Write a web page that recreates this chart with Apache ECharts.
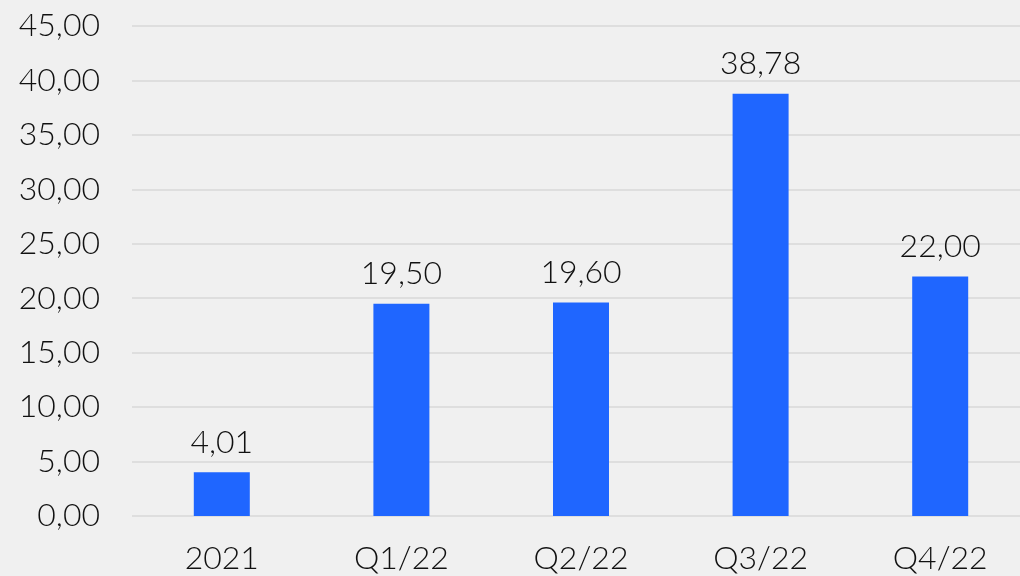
<!DOCTYPE html>
<html><head><meta charset="utf-8">
<script src="https://cdn.jsdelivr.net/npm/echarts@6/dist/echarts.min.js"></script>
<style>html,body{margin:0;padding:0;background:#f0f0f0;overflow:hidden;width:1020px;height:576px;}#c{width:1030px;height:576px;}</style>
</head><body><div id="c"></div>
<script>
const categories = ['2021', 'Q1/22', 'Q2/22', 'Q3/22', 'Q4/22'];
const values = [4.01, 19.50, 19.60, 38.78, 22.00];
const fmt = v => v.toFixed(2).replace('.', ',');
const FONT = 'Lato';
const chart = echarts.init(document.getElementById('c'));
chart.setOption({
  backgroundColor: '#f0f0f0',
  animation: false,
  grid: { left: 132, top: 26, right: 0, bottom: 60, containLabel: false },
  xAxis: {
    type: 'category', data: categories,
    axisLine: { show: false }, axisTick: { show: false },
    axisLabel: { fontFamily: FONT, fontWeight: 300, fontSize: 32, color: '#111', margin: 27 }
  },
  yAxis: {
    type: 'value', min: 0, max: 45, interval: 5,
    axisLine: { show: false }, axisTick: { show: false },
    splitLine: { lineStyle: { color: '#d9d9d9', width: 1.5 } },
    axisLabel: { fontFamily: FONT, fontWeight: 300, fontSize: 32, color: '#111', margin: 32, formatter: v => fmt(v) }
  },
  series: [{
    type: 'bar', data: values, barWidth: 56,
    itemStyle: { color: '#1f66ff' },
    label: { show: true, position: 'top', distance: 14, fontFamily: FONT, fontWeight: 300, fontSize: 32, color: '#111',
      formatter: p => fmt(p.value) }
  }]
});
</script></body></html>
